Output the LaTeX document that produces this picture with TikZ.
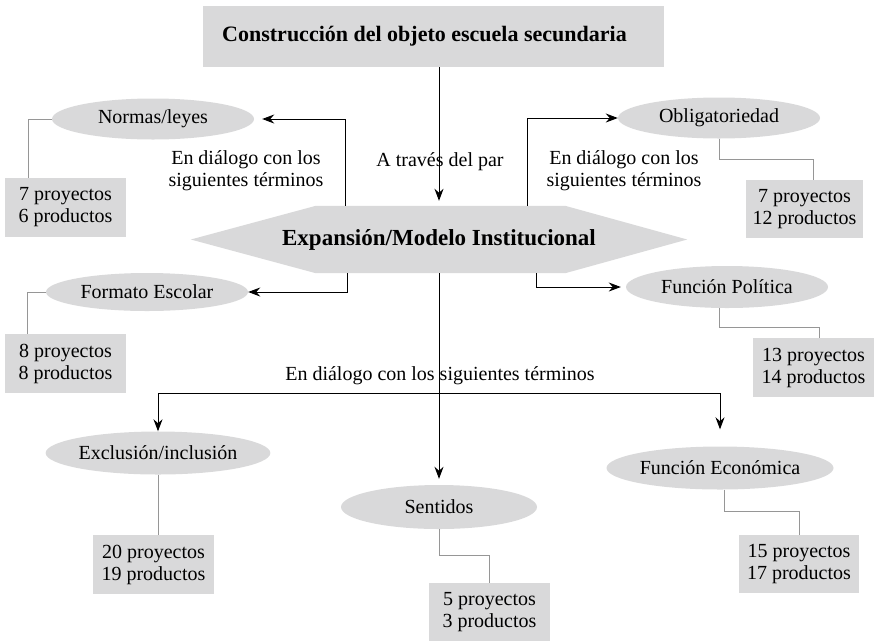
\documentclass[tikz,border=0pt]{standalone}
\usepackage{fontspec}
\setmainfont{Liberation Serif}
\usetikzlibrary{arrows.meta,shapes.geometric,backgrounds}
\definecolor{fillgray}{RGB}{217,217,218}
\definecolor{linegray}{RGB}{150,150,150}
\begin{document}
\begin{tikzpicture}[x=1pt,y=-1pt,>={Stealth[length=12pt,width=9pt]},
  every node/.style={font=\fontsize{20}{22}\selectfont},
  rotulo/.style={shape=rectangle,fill=fillgray,inner sep=0pt,font=\fontsize{22}{26}\selectfont\bfseries},
  termino/.style={shape=ellipse,fill=fillgray,inner sep=0pt,minimum width=202pt,minimum height=41pt},
  conteo/.style={shape=rectangle,fill=fillgray,align=center,inner sep=0pt,minimum width=121pt,minimum height=59pt},
  flecha/.style={->,line width=1pt},
  gris/.style={draw=linegray,line width=0.9pt}]

  \useasboundingbox (0,0) rectangle (874,641);

  % centre
  \node (raiz) at (433.5,36.5) [rotulo,minimum width=461pt,minimum height=61pt]
        {Construcción del objeto escuela secundaria\hspace*{18pt}};
  \node (eje) at (439,239.5) [rotulo,fill=none,minimum width=496pt,minimum height=67pt,
        font=\fontsize{23}{27}\selectfont\bfseries] {Expansión/Modelo Institucional};
  \begin{scope}[on background layer]
    \fill [fillgray] (eje.west) -- ([xshift=125pt]eje.north west) -- ([xshift=-122pt]eje.north east)
          -- (eje.east) -- ([xshift=-122pt]eje.south east) -- ([xshift=125pt]eje.south west) -- cycle;
  \end{scope}

  % terms
  \node (normas)    at (153,119) [termino] {Normas/leyes};
  \node (oblig)     at (719,118) [termino] {Obligatoriedad};
  \node (formato)   at (147,292) [termino,minimum height=38pt] {Formato Escolar};
  \node (politica)  at (727,287) [termino,minimum height=42pt] {Función Política};
  \node (exclusion) at (158,453) [termino,minimum height=43pt] {Exclusión/inclusión};
  \node (sentidos)  at (439,507) [termino,minimum width=196pt,minimum height=44pt] {Sentidos};
  \node (economica) at (720,468) [termino,minimum height=43pt] {Función Económica};

  % counts
  \node (b1) at (65.5,207.5)  [conteo] {7 proyectos\\6 productos};
  \node (b2) at (804.5,209)   [conteo,minimum width=117pt,minimum height=58pt] {7 proyectos\\12 productos};
  \node (b3) at (65.5,363.5)  [conteo] {8 proyectos\\8 productos};
  \node (b4) at (813.5,367.5) [conteo] {13 proyectos\\14 productos};
  \node (b5) at (153.5,564.5) [conteo] {20 proyectos\\19 productos};
  \node (b6) at (489.5,612)   [conteo,minimum height=58pt] {5 proyectos\\3 productos};
  \node (b7) at (799,564)     [conteo,minimum width=120pt,minimum height=58pt] {15 proyectos\\17 productos};

  % labels
  \node (par)  at (440,162) {A través del par};
  \node (dlgL) at (246,171) [align=center] {En diálogo con los\\siguientes términos};
  \node (dlgR) at (624,171) [align=center] {En diálogo con los\\siguientes términos};
  \node (dlgB) at (440,376) {En diálogo con los siguientes términos};

  % arrows
  \draw [flecha,shorten >=5pt] (raiz.south -| eje.north) -- (eje.north);
  \draw [flecha,shorten >=8pt] ([xshift=-94pt]eje.north) |- (normas.east);
  \draw [flecha] ([xshift=88pt]eje.north) |- (oblig.west);
  \draw [flecha] ([xshift=-92pt]eje.south) |- (formato.east);
  \draw [flecha,shorten >=5pt] ([xshift=97pt]eje.south) |- (politica.west);
  \draw [flecha,shorten >=6pt] (eje.south) -- (sentidos.north);
  \coordinate (cruce) at (439,393);
  \draw [flecha] (cruce) -| (exclusion.north);
  \draw [flecha,shorten >=17pt] (cruce) -| (economica.north);

  % grey links
  \draw [gris] (normas.west) -| ([xshift=-37.5pt]b1.north);
  \draw [gris] (formato.west) -| ([xshift=-38.5pt]b3.north);
  \draw [gris] (oblig.south) -- ++(0,21) -| ([xshift=8.5pt]b2.north);
  \draw [gris] ([xshift=-8pt]politica.south) -- ++(0,19) -| ([xshift=5.5pt]b4.north);
  \draw [gris] (exclusion.south) -- (b5.north -| exclusion.south);
  \draw [gris] (sentidos.south) -- ++(0,26) -| (b6.north);
  \draw [gris] ([xshift=4pt]economica.south) -- ++(0,22) -| (b7.north);
\end{tikzpicture}
\end{document}
